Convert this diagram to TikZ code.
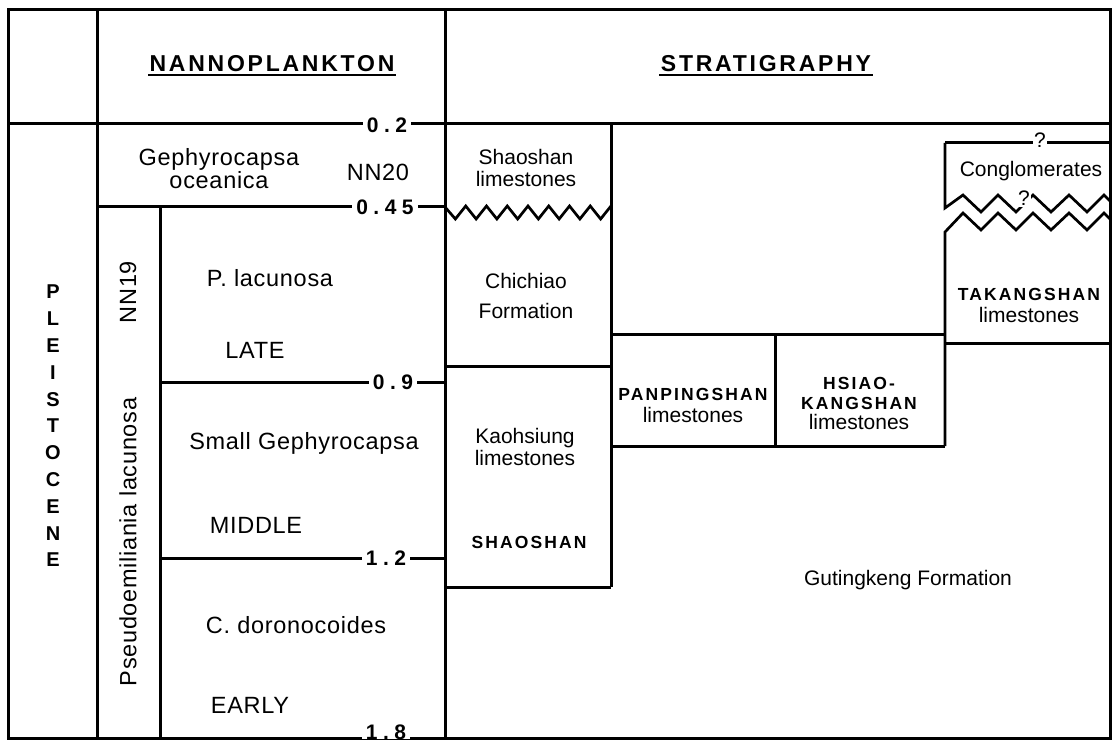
\documentclass[tikz,border=0pt]{standalone}
\usepackage{fontspec}
\setmainfont{Liberation Sans}
\newfontfamily\headfont[LetterSpace=12]{Liberation Sans}
\newfontfamily\agefont[LetterSpace=26]{Liberation Sans}
\newfontfamily\capsfont[LetterSpace=12]{Liberation Sans}
\newfontfamily\zonefont[LetterSpace=3]{Liberation Sans}
\usetikzlibrary{positioning}

\begin{document}
\begin{tikzpicture}[
        x=1pt, y=-1pt,
        line width=3pt,
        % Styles
        zonetext/.style={font=\zonefont\fontsize{23.5}{18.5}\selectfont, align=center, inner sep=0pt},
        unittext/.style={font=\fontsize{21}{22}\selectfont, align=center, inner sep=0pt},
        capstext/.style={font=\capsfont\bfseries\fontsize{17.5}{20}\selectfont, inner sep=0pt},
        headtext/.style={font=\headfont\bfseries\fontsize{23}{26}\selectfont, anchor=base, inner sep=0pt},
        agetext/.style={font=\agefont\bfseries\fontsize{21}{22}\selectfont, fill=white, inner xsep=4pt, inner ysep=1pt},
        epochtext/.style={font=\bfseries\fontsize{20}{20}\selectfont, inner sep=0pt},
        qmark/.style={font=\fontsize{21}{22}\selectfont, fill=white, inner sep=1.5pt},
        zigzag line/.style={line width=2.7pt, line join=miter}
    ]
    \useasboundingbox (0,0) rectangle (1114,743);

    % --- Frame and columns ---
    \draw (8,10) rectangle (1110,738);
    \draw (8,124) -- (1110,124);
    \draw (97,10) -- (97,738);
    \draw (445,10) -- (445,738);

    % --- Nannoplankton zones ---
    \draw (97,207) -- (445,207);
    \draw (160,207) -- (160,738);
    \draw (160,382) -- (445,382);
    \draw (160,558) -- (445,558);

    % --- Stratigraphy: Shaoshan column ---
    \draw[zigzag line] (445,207)
        \foreach \k in {1,...,16} { -- ({445+\k*166/16}, {isodd(\k) ? 219 : 206}) };
    \draw (611,124) -- (611,587);
    \draw (445,366) -- (611,366);
    \draw (445,587) -- (611,587);

    % --- Panpingshan and Hsiao-Kangshan ---
    \draw (611,335) -- (945,335);
    \draw (775,335) -- (775,446);
    \draw (611,446) -- (945,446);

    % --- Takangshan and conglomerates ---
    \draw (945,143) -- (1110,143);
    \draw[zigzag line] (945,143) -- (945,208) -- (963,195) -- (981,212) -- (998,195)
        -- (1016,212) -- (1033,195) -- (1051,212) -- (1069,195) -- (1087,212)
        -- (1104,195) -- (1110,201);
    \draw[zigzag line] (945,446) -- (945,232) -- (963,213) -- (981,230) -- (998,213)
        -- (1016,230) -- (1033,213) -- (1051,230) -- (1069,213) -- (1087,230)
        -- (1104,213) -- (1110,219);
    \draw (945,344) -- (1110,344);

    % --- Headings ---
    \node[headtext] (nanno) at (272,72) {NANNOPLANKTON};
    \node[headtext] (strat) at (766,72) {STRATIGRAPHY};
    \draw[line width=1.6pt] ([yshift=-3pt]nanno.base west) -- ([yshift=-3pt]nanno.base east);
    \draw[line width=1.6pt] ([yshift=-3pt]strat.base west) -- ([yshift=-3pt]strat.base east);

    % --- Ages (Ma) ---
    \node[agetext] (a02) at (387,125) {0.2};
    \node[agetext] (a045) at (385,207) {0.45};
    \node[agetext] (a09) at (393,382) {0.9};
    \node[agetext] (a12) at (386,558) {1.2};
    \node[agetext, inner ysep=0pt] (a18) at (386,732) {1.8};

    % --- Epoch ---
    \foreach \ch [count=\i] in {P,L,E,I,S,T,O,C,E,N,E}
        \node[epochtext] (ep\i) at (53,{292+26.8*(\i-1)}) {\ch};

    % --- Zones ---
    \node[zonetext] (oceanica) at (219,169) {Gephyrocapsa\\oceanica};
    \node[zonetext] (nn20) at (378,172) {NN20};
    \node[zonetext, rotate=90] (nn19) at (128,292) {NN19};
    \node[zonetext, rotate=90] (pseudo) at (128,542) {Pseudoemiliania lacunosa};
    \node[zonetext] (placunosa) at (270,278) {P. lacunosa};
    \node[zonetext] (late) at (255,350) {LATE};
    \node[zonetext] (smallgeph) at (304,443) {Small Gephyrocapsa};
    \node[zonetext] (middle) at (256,525) {MIDDLE};
    \node[zonetext] (doron) at (296,625) {C. doronocoides};
    \node[zonetext] (early) at (250,705) {EARLY};

    % --- Rock units ---
    \node[unittext] (shaolime) at (526,168) {Shaoshan\\limestones};
    \node[unittext, font=\fontsize{21}{30}\selectfont] (chichiao) at (526,296) {Chichiao\\Formation};
    \node[unittext] (kaohsiung) at (525,447) {Kaohsiung\\limestones};
    \node[capstext] (shaoshan) at (529,542) {SHAOSHAN};
    \node[unittext] (panping) at (693,405) {{\capsfont\bfseries\fontsize{17.5}{20}\selectfont PANPINGSHAN}\\limestones};
    \node[unittext, font=\fontsize{21}{20}\selectfont] (hsiao) at (859,403)
        {{\capsfont\bfseries\fontsize{17.5}{20}\selectfont HSIAO-}\\{\capsfont\bfseries\fontsize{17.5}{20}\selectfont KANGSHAN}\\limestones};
    \node[unittext] (takang) at (1029,305) {{\capsfont\bfseries\fontsize{17.5}{20}\selectfont TAKANGSHAN}\\limestones};
    \node[unittext] (conglom) at (1031,171) {Conglomerates};
    \node[unittext] (gutingkeng) at (908,580) {Gutingkeng Formation};
    \node[qmark] (q1) at (1040,140) {?};
    \node[qmark] (q2) at (1024,198) {?};

\end{tikzpicture}
\end{document}
